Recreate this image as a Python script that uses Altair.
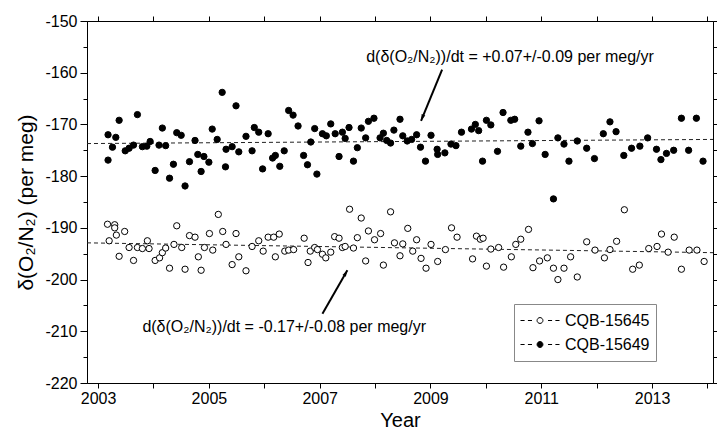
import altair as alt
import pandas as pd

FONT = "Liberation Sans"
series_names = ["CQB-15645", "CQB-15649"]

open_years = [2003.17, 2003.20, 2003.30, 2003.30, 2003.33, 2003.38, 2003.48, 2003.56, 2003.64, 2003.71,
              2003.80, 2003.89, 2003.92, 2004.03, 2004.11, 2004.16, 2004.22, 2004.29, 2004.37, 2004.42,
              2004.51, 2004.57, 2004.65, 2004.75, 2004.81, 2004.86, 2004.92, 2005.01, 2005.07, 2005.17,
              2005.25, 2005.31, 2005.42, 2005.49, 2005.54, 2005.67, 2005.78, 2005.90, 2005.98, 2006.07,
              2006.17, 2006.20, 2006.27, 2006.37, 2006.44, 2006.53, 2006.72, 2006.79, 2006.83, 2006.91,
              2006.96, 2007.05, 2007.11, 2007.20, 2007.27, 2007.35, 2007.41, 2007.46, 2007.54, 2007.61,
              2007.68, 2007.75, 2007.83, 2007.88, 2007.99, 2008.10, 2008.15, 2008.28, 2008.35, 2008.45,
              2008.50, 2008.59, 2008.68, 2008.75, 2008.83, 2008.92, 2009.01, 2009.13, 2009.27, 2009.38,
              2009.48, 2009.76, 2009.83, 2009.90, 2009.95, 2010.01, 2010.09, 2010.23, 2010.32, 2010.46,
              2010.54, 2010.63, 2010.77, 2010.85, 2010.97, 2011.11, 2011.22, 2011.30, 2011.41, 2011.53,
              2011.65, 2011.82, 2011.97, 2012.14, 2012.24, 2012.36, 2012.50, 2012.65, 2012.77, 2012.94,
              2013.09, 2013.17, 2013.29, 2013.40, 2013.53, 2013.67, 2013.81, 2013.94]
open_vals = [-189.3, -192.5, -189.4, -190.0, -191.4, -195.5, -190.7, -193.8, -196.3, -193.8,
             -194.0, -192.5, -194.0, -196.3, -195.8, -194.8, -193.9, -197.8, -193.2, -189.6,
             -193.8, -198.0, -191.5, -191.8, -195.6, -198.2, -193.8, -191.1, -194.3, -187.4,
             -190.7, -193.2, -197.1, -191.1, -195.6, -198.3, -193.6, -192.5, -194.5, -191.8,
             -191.8, -195.6, -191.2, -194.5, -194.3, -194.2, -192.0, -196.7, -194.5, -193.8,
             -194.2, -195.1, -195.8, -194.7, -191.7, -192.0, -193.8, -193.6, -186.4, -193.9,
             -191.9, -188.1, -196.4, -190.6, -192.3, -191.1, -197.2, -186.9, -192.9, -195.4,
             -193.1, -190.1, -194.5, -192.3, -195.9, -197.8, -193.2, -196.5, -194.2, -190.0,
             -191.8, -196.0, -191.6, -192.2, -192.0, -197.4, -194.1, -193.8, -197.6, -195.6,
             -193.2, -192.2, -190.3, -197.7, -196.4, -195.8, -197.8, -200.0, -197.8, -195.6,
             -199.5, -192.7, -194.3, -195.8, -194.2, -192.6, -186.5, -198.0, -197.2, -194.0,
             -193.6, -191.2, -194.7, -191.8, -198.0, -194.3, -194.3, -196.5]

filled_years = [2003.18, 2003.18, 2003.26, 2003.32, 2003.38, 2003.49, 2003.56, 2003.64, 2003.71, 2003.80,
                2003.88, 2003.94, 2004.03, 2004.10, 2004.16, 2004.22, 2004.29, 2004.36, 2004.42, 2004.50,
                2004.57, 2004.65, 2004.75, 2004.80, 2004.86, 2004.91, 2005.00, 2005.06, 2005.15, 2005.24,
                2005.30, 2005.31, 2005.42, 2005.49, 2005.54, 2005.67, 2005.78, 2005.82, 2005.90, 2005.97,
                2006.07, 2006.15, 2006.20, 2006.28, 2006.36, 2006.44, 2006.52, 2006.61, 2006.71, 2006.78,
                2006.84, 2006.91, 2006.95, 2007.05, 2007.12, 2007.20, 2007.28, 2007.35, 2007.41, 2007.46,
                2007.53, 2007.61, 2007.68, 2007.75, 2007.83, 2007.88, 2007.98, 2008.09, 2008.15, 2008.21,
                2008.28, 2008.34, 2008.45, 2008.50, 2008.58, 2008.66, 2008.75, 2008.82, 2008.91, 2009.01,
                2009.12, 2009.13, 2009.26, 2009.37, 2009.46, 2009.56, 2009.74, 2009.81, 2009.87, 2009.94,
                2010.01, 2010.09, 2010.21, 2010.31, 2010.45, 2010.52, 2010.63, 2010.76, 2010.84, 2010.96,
                2011.07, 2011.22, 2011.30, 2011.41, 2011.50, 2011.65, 2011.82, 2011.96, 2012.12, 2012.24,
                2012.35, 2012.49, 2012.63, 2012.78, 2012.92, 2013.08, 2013.16, 2013.26, 2013.39, 2013.53,
                2013.66, 2013.80, 2013.92]
filled_vals = [-172.0, -176.9, -174.4, -172.5, -169.2, -175.1, -174.6, -174.0, -168.1, -174.3,
               -174.2, -173.3, -178.9, -174.0, -170.7, -174.1, -180.4, -177.7, -171.6, -172.1,
               -181.9, -177.2, -173.1, -175.8, -179.1, -176.2, -177.3, -170.9, -172.9, -163.8,
               -178.2, -174.8, -174.3, -166.4, -175.3, -172.3, -175.1, -170.6, -171.5, -178.6,
               -171.8, -176.5, -176.0, -178.1, -175.1, -167.3, -168.2, -170.3, -176.0, -177.8,
               -173.4, -170.8, -179.6, -171.8, -172.2, -169.9, -171.8, -176.2, -171.5, -172.7,
               -170.6, -177.1, -174.5, -170.7, -172.6, -169.4, -168.8, -172.6, -171.7, -173.1,
               -173.6, -171.1, -169.0, -172.2, -173.2, -172.9, -172.0, -174.4, -177.1, -172.1,
               -174.8, -175.8, -175.5, -173.8, -174.1, -171.5, -170.9, -170.0, -171.2, -177.1,
               -169.2, -170.1, -175.2, -167.7, -169.2, -169.0, -174.2, -171.5, -173.7, -169.3,
               -175.8, -184.4, -172.6, -173.8, -177.1, -173.2, -174.6, -176.6, -171.8, -169.5,
               -171.4, -176.0, -174.6, -174.2, -172.6, -174.8, -176.8, -175.6, -175.0, -168.8,
               -175.0, -168.8, -177.1]

trend_years = [2002.8, 2014.1]
trend_open = [-192.9, -194.8]
trend_filled = [-173.7, -172.9]

ann_texts = ["d(δ(O₂/N₂))/dt = +0.07+/-0.09 per meg/yr",
             "d(δ(O₂/N₂))/dt = -0.17+/-0.08 per meg/yr"]
ann_x = [2007.84, 2003.80]
ann_y = [-157.0, -209.2]
arrow_tail_x = [2009.21, 2007.05]
arrow_tail_y = [-159.4, -206.6]
arrow_tip_x = [2008.83, 2007.50]
arrow_tip_y = [-169.3, -198.2]
arrow_angle = [202, 30]

x_ticks = list(range(2003, 2015))
y_major = list(range(-220, -149, 10))
y_minor = list(range(-215, -150, 10))

df_pts = pd.DataFrame({
    "year": open_years + filled_years,
    "val": open_vals + filled_vals,
    "series": [series_names[0]] * len(open_years) + [series_names[1]] * len(filled_years),
})
df_trend = pd.DataFrame({
    "year": trend_years + trend_years,
    "val": trend_open + trend_filled,
    "series": [series_names[0]] * 2 + [series_names[1]] * 2,
})
df_ann = pd.DataFrame({"x": ann_x, "y": ann_y, "text": ann_texts})
df_arrow = pd.DataFrame({"x": arrow_tail_x, "y": arrow_tail_y, "x2": arrow_tip_x, "y2": arrow_tip_y,
                         "angle": arrow_angle})

xs = alt.Scale(domain=[2002.8, 2014.1], nice=False, zero=False)
ys = alt.Scale(domain=[-220, -150], nice=False, zero=False)

common = dict(grid=False, domainColor="black", tickColor="black", domainWidth=1, tickWidth=1,
              labelFont=FONT, titleFont=FONT, labelColor="black", titleColor="black")

ax_bottom = alt.Axis(orient="bottom", values=x_ticks, tickSize=5, labelOverlap=False,
                     labelExpr="datum.value % 2 == 1 ? '' + datum.value : ''",
                     labelFontSize=16, labelPadding=2, title="Year", titleFontSize=20,
                     titleFontWeight="normal", titlePadding=4, **common)
ax_top = alt.Axis(orient="top", values=x_ticks, tickSize=5, labels=False, title=None, **common)
ax_left = alt.Axis(orient="left", values=y_major, tickSize=7, labelOverlap=False,
                   labelExpr="'' + datum.value", labelFontSize=16, labelPadding=3,
                   title="δ(O₂/N₂) (per meg)", titleFontSize=21, titleFontWeight="normal",
                   titlePadding=8, **common)
ax_left_minor = alt.Axis(orient="left", values=y_minor, tickSize=4, labels=False, title=None, **common)
ax_right = alt.Axis(orient="right", values=y_major, tickSize=7, labels=False, title=None, **common)
ax_right_minor = alt.Axis(orient="right", values=y_minor, tickSize=4, labels=False, title=None, **common)

LEGEND_PATH = ("M-1,0H-0.79M-0.62,0H-0.41M0.41,0H0.62M0.79,0H1"
               "M0.15,0A0.15,0.15,0,1,1,-0.15,0A0.15,0.15,0,1,1,0.15,0Z")
ARROW_PATH = "M0,0L-0.6,2L0.6,2Z"

trend = alt.Chart(df_trend).mark_line(color="#222", strokeWidth=1, strokeDash=[4, 3]).encode(
    x=alt.X("year:Q", scale=xs, axis=ax_bottom),
    y=alt.Y("val:Q", scale=ys, axis=ax_left),
    detail="series:N",
)

points = alt.Chart(df_pts).mark_point(filled=True, size=40, stroke="black", strokeWidth=1, opacity=1).encode(
    x=alt.X("year:Q", scale=xs, axis=ax_top),
    y=alt.Y("val:Q", scale=ys, axis=ax_left_minor),
    fill=alt.Fill("series:N", scale=alt.Scale(domain=series_names, range=["white", "black"]),
                  legend=alt.Legend(title=None, orient="none", legendX=427, legendY=283,
                                    symbolType=LEGEND_PATH, symbolSize=1521,
                                    symbolStrokeColor="black", symbolStrokeWidth=1,
                                    labelFontSize=16, labelFont=FONT, labelColor="black",
                                    strokeColor="#888", fillColor="white", padding=6,
                                    clipHeight=21, rowPadding=3, labelOffset=5)),
)

shafts = alt.Chart(df_arrow).mark_rule(color="black", strokeWidth=2).encode(
    x=alt.X("x:Q", scale=xs, axis=None),
    y=alt.Y("y:Q", scale=ys, axis=ax_right),
    x2="x2:Q",
    y2="y2:Q",
)

heads = alt.Chart(df_arrow).mark_point(shape=ARROW_PATH, size=42, filled=True, color="black",
                                       opacity=1).encode(
    x=alt.X("x2:Q", scale=xs, axis=None),
    y=alt.Y("y2:Q", scale=ys, axis=ax_right_minor),
    angle=alt.Angle("angle:Q", scale=None),
)

texts = alt.Chart(df_ann).mark_text(align="left", baseline="middle", fontSize=16, font=FONT,
                                    color="black").encode(
    x=alt.X("x:Q", scale=xs, axis=None),
    y=alt.Y("y:Q", scale=ys, axis=None),
    text="text:N",
)

chart = alt.layer(trend, points, shafts, heads, texts).resolve_axis(
    x="independent", y="independent"
).properties(
    width=626, height=362,
    autosize=alt.AutoSizeParams(type="none"),
    padding={"left": 87, "top": 21, "right": 4, "bottom": 49},
).configure_view(stroke=None).configure(background="white")

chart.save("out.html", embed_options={"renderer": "svg", "actions": False})
